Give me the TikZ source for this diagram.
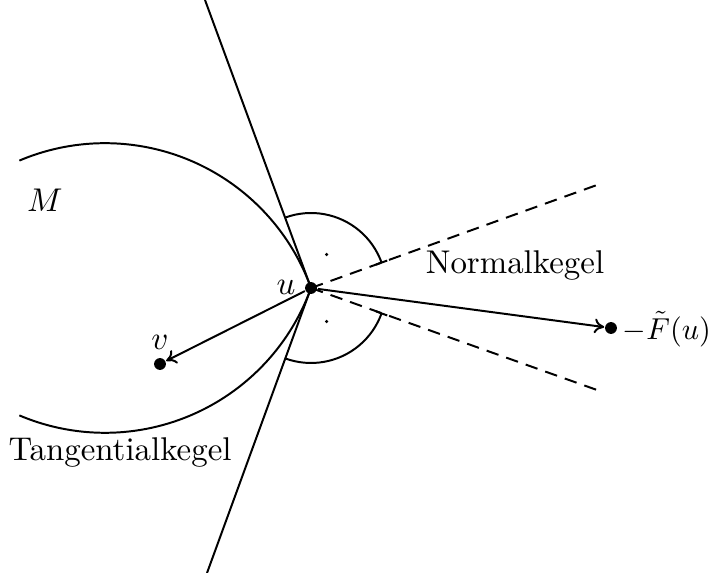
\documentclass[tikz,border=0pt]{standalone}
\usetikzlibrary{arrows.meta}
\begin{document}
\begin{tikzpicture}[x=0.304pt,y=0.304pt,
  every path/.style={line width=0.6pt},
  dot/.style={circle,fill=black,inner sep=0pt,minimum size=3.6pt},
  smalldot/.style={circle,fill=black,inner sep=0pt,minimum size=1.1pt},
  arr/.style={-{To[length=3pt,width=4.5pt]}},
  dsh/.style={dash pattern=on 3.8pt off 2.5pt}]
\useasboundingbox (0,0) rectangle (712,573);
% points
\node[dot] (u) at (311,285) {};
\node[dot] (v) at (160,209) {};
\node[dot] (F) at (611,245) {};
\coordinate (t1) at (205,573);
\coordinate (t2) at (207,0);
\coordinate (n1) at (597,388);
\coordinate (n2) at (597,183);
% boundary of M
\draw (u.center) arc[start angle=19.8, end angle=113, radius=219];
\draw (u.center) arc[start angle=-19.8, end angle=-113, radius=219];
% tangent cone
\draw (t1) -- (u.center) -- (t2);
% normal cone
\draw[dsh] (u.center) -- (n1);
\draw[dsh] (u.center) -- (n2);
% right angle marks
\draw ([shift={(19.8:75)}]u.center) arc[start angle=19.8, end angle=110.2, radius=75];
\draw ([shift={(-19.8:75)}]u.center) arc[start angle=-19.8, end angle=-110.2, radius=75];
\draw ([shift={(19.8:69)}]u.center) -- ([shift={(19.8:81)}]u.center);
\draw ([shift={(-19.8:69)}]u.center) -- ([shift={(-19.8:81)}]u.center);
\node[smalldot] (d1) at ([shift={(65:37)}]u.center) {};
\node[smalldot] (d2) at ([shift={(-65:37)}]u.center) {};
% arrows
\draw[arr] (u) -- (v);
\draw[arr] (u) -- (F);
% labels
\node (lM) at (45,373) {$M$};
\node (lu) at (286,286) {$u$};
\node (lv) at (160,231) {$v$};
\node[anchor=west,inner sep=0pt,scale=0.92] (lF) at (622,244) {$-\tilde F(u)$};
\node (lN) at (515,308) {Normalkegel};
\node (lT) at (120,121) {Tangentialkegel};
\end{tikzpicture}
\end{document}
